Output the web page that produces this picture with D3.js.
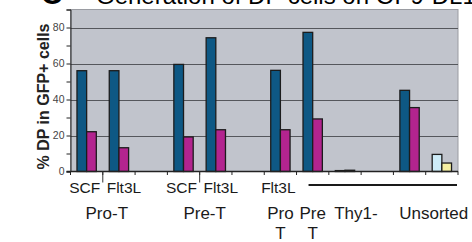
<!DOCTYPE html>
<html>
<head>
<meta charset="utf-8">
<script src="https://cdn.jsdelivr.net/npm/d3@7"></script>
<style>
  body { margin: 0; background: #fff; }
  text { font-family: Arial, "Liberation Sans", sans-serif; }
</style>
</head>
<body>
<div id="chart"></div>
<script>
// Categories (one slot per x position), first and second level labels
const categories = [0, 1, 2, 3, 4, 5, 6, 7, 8, 9, 10, 11]
const subLabels = ['SCF', 'Flt3L', '', 'SCF', 'Flt3L', '', 'Flt3L', '', '', '', '', '']
const groupLabels = [
  { lines: ['Pro-T'], from: 0, to: 1 },
  { lines: ['Pre-T'], from: 3, to: 4 },
  { lines: ['Pro', 'T'], from: 6, to: 6 },
  { lines: ['Pre', 'T'], from: 7, to: 7 },
  { lines: ['Thy1-'], from: 8, to: 8 },
  { lines: ['Unsorted'], from: 10, to: 11 }
]
const yTicks = [0, 20, 40, 60, 80]

// Series values (% DP in GFP+ cells), null = no bar
const dpBlue = [56, 56, null, 59.5, 74.3, null, 56.2, 77.3, 0.5, null, 45.1, null]
const dpMagenta = [22.1, 13.2, null, 19.2, 23.2, null, 23.2, 29.2, 0.7, null, 35.5, null]
const ctrlBlue = [null, null, null, null, null, null, null, null, null, null, null, 9.5]
const ctrlYellow = [null, null, null, null, null, null, null, null, null, null, null, 4.7]

const seriesList = [
  { values: dpBlue, slot: 0, color: '#0e5884' },
  { values: dpMagenta, slot: 1, color: '#b3248f' },
  { values: ctrlBlue, slot: 0, color: '#cdebf7' },
  { values: ctrlYellow, slot: 1, color: '#f6f0a2' }
];

(() => {
  const width = 472
  const height = 242
  const plot = { left: 70.5, right: 458, top: 9.5, bottom: 171.5 }

  const svg = d3.select('#chart')
    .append('svg')
    .attr('width', width)
    .attr('height', height)

  const x = d3.scaleBand().domain(categories).range([plot.left, plot.right]).padding(0)
  const x1 = d3.scaleBand().domain([0, 1]).range([0, x.bandwidth()]).paddingOuter(0.67).paddingInner(0)
  const y = d3.scaleLinear().domain([0, 90]).range([plot.bottom, plot.top])

  // Title (mostly cut off at the top, as in the source figure)
  svg.append('text')
    .attr('x', 41).attr('y', 4)
    .attr('font-size', 30).attr('font-weight', 'bold')
    .text('C')
  svg.append('text')
    .attr('x', 96).attr('y', 4)
    .attr('font-size', 24)
    .text('Generation of DP cells on OP9-DL1')

  // Plot background
  svg.append('rect')
    .attr('x', plot.left).attr('y', plot.top)
    .attr('width', plot.right - plot.left)
    .attr('height', plot.bottom - plot.top)
    .attr('fill', '#c1c4cc')
    .attr('stroke', '#9a9ca2')
    .attr('stroke-width', 1)

  // Gridlines
  svg.append('g')
    .selectAll('line')
    .data(yTicks.filter(d => d > 0))
    .join('line')
    .attr('x1', plot.left).attr('x2', plot.right)
    .attr('y1', d => Math.round(y(d)) + 0.5).attr('y2', d => Math.round(y(d)) + 0.5)
    .attr('stroke', '#55575c')
    .attr('stroke-width', 1)

  // Left axis with major and minor ticks
  const yAxis = svg.append('g')
    .attr('transform', `translate(${plot.left}, 0)`)
    .call(d3.axisLeft(y).tickValues(d3.range(0, 91, 10)).tickSize(4).tickPadding(2)
      .tickFormat(d => yTicks.includes(d) ? d : ''))
  yAxis.select('.domain').attr('stroke', '#222')
  yAxis.selectAll('line').attr('stroke', '#222')
  yAxis.selectAll('text').attr('font-size', 10.5).attr('fill', '#444').attr('font-family', 'Arial, sans-serif')

  svg.append('text')
    .attr('transform', `translate(49, ${(plot.top + plot.bottom) / 2 + 6}) rotate(-90)`)
    .attr('text-anchor', 'middle')
    .attr('font-size', 16)
    .attr('font-weight', 'bold')
    .attr('fill', '#222')
    .text('% DP in GFP+ cells')

  // Bars
  seriesList.forEach(s => {
    svg.append('g')
      .selectAll('rect')
      .data(categories.filter(c => s.values[c] != null))
      .join('rect')
      .attr('x', c => x(c) + x1(s.slot))
      .attr('y', c => y(s.values[c]))
      .attr('width', x1.bandwidth())
      .attr('height', c => y(0) - y(s.values[c]))
      .attr('fill', s.color)
      .attr('stroke', '#1c1c1c')
      .attr('stroke-width', 1.3)
  })

  // Bottom axis
  const xAxis = svg.append('g')
    .attr('transform', `translate(0, ${plot.bottom})`)
  xAxis.append('line')
    .attr('x1', plot.left - 4).attr('x2', plot.right)
    .attr('stroke', '#222').attr('stroke-width', 1.3)
  const boundaries = categories.map(c => x(c)).concat([plot.right])
  xAxis.selectAll('.tick')
    .data(boundaries)
    .join('line')
    .attr('x1', d => d).attr('x2', d => d)
    .attr('y1', 0).attr('y2', 3.5)
    .attr('stroke', '#222')
  // taller separators between sub-labels
  xAxis.selectAll('.sep')
    .data([x(1), x(4)])
    .join('line')
    .attr('x1', d => d).attr('x2', d => d)
    .attr('y1', 0).attr('y2', 11)
    .attr('stroke', '#333')

  svg.append('g')
    .selectAll('text')
    .data(categories.filter(c => subLabels[c]))
    .join('text')
    .attr('x', c => x(c) + x.bandwidth() / 2 + (subLabels[c] === 'Flt3L' && subLabels[c - 1] ? 5 : -2))
    .attr('y', 192.5)
    .attr('text-anchor', 'middle')
    .attr('font-size', 15.5)
    .attr('fill', '#1a1a1a')
    .text(c => subLabels[c])

  // Line under the Flt3L conditions
  svg.append('line')
    .attr('x1', x(7) + 12).attr('x2', plot.right - 1)
    .attr('y1', 185).attr('y2', 185)
    .attr('stroke', '#1a1a1a').attr('stroke-width', 2)

  // Group labels
  const groupShift = { 'Pro-T': 4, 'Pre-T': 5, 'Thy1-': 11, 'Unsorted': 8 }
  const gl = svg.append('g')
    .selectAll('text')
    .data(groupLabels)
    .join('text')
    .attr('x', d => (x(d.from) + x(d.to) + x.bandwidth()) / 2 + (groupShift[d.lines[0]] || 0))
    .attr('y', 219)
    .attr('text-anchor', 'middle')
    .attr('font-size', 17)
    .attr('fill', '#1a1a1a')
  gl.selectAll('tspan')
    .data(d => d.lines)
    .join('tspan')
    .attr('x', function () { return d3.select(this.parentNode).attr('x') })
    .attr('dy', (d, i) => i === 0 ? 0 : 20)
    .text(d => d)
})()
</script>
</body>
</html>
